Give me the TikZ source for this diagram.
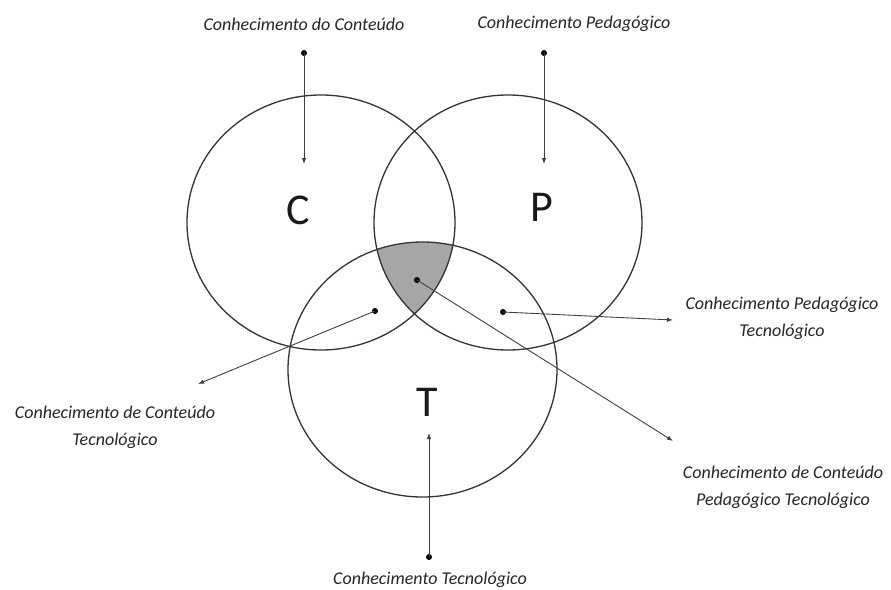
\documentclass[tikz,border=0pt]{standalone}
\usepackage{fontspec}
\setmainfont{Carlito}
\usetikzlibrary{arrows.meta}

\begin{document}
\begin{tikzpicture}[x=1pt, y=-1pt,
    every node/.style={font=\fontsize{18}{27}\selectfont\itshape, text=black!85},
    ring/.style={draw=black!80, line width=1.3pt},
    big/.style={font=\fontsize{44}{44}\selectfont\upshape, text=black!90},
    dot/.style={circle, fill=black, inner sep=0pt, minimum size=6pt},
    lbl/.style={align=center},
    arrow/.style={-{Latex[length=6pt, width=4.5pt]}, draw=black!75, line width=0.9pt}]

  \useasboundingbox (0,0) rectangle (891,589);

  % centres of the three sets
  \coordinate (cC) at (321,222.5);
  \coordinate (cP) at (508,222.5);
  \coordinate (cT) at (422.5,369.5);

  % common part
  \begin{scope}
    \clip (cC) ellipse [x radius=134pt, y radius=127.5pt];
    \clip (cP) ellipse [x radius=134pt, y radius=127.5pt];
    \fill[black!35] (cT) ellipse [x radius=134.5pt, y radius=127.5pt];
  \end{scope}

  \draw[ring] (cC) ellipse [x radius=134pt, y radius=127.5pt];
  \draw[ring] (cP) ellipse [x radius=134pt, y radius=127.5pt];
  \draw[ring] (cT) ellipse [x radius=134.5pt, y radius=127.5pt];

  \node[big] (setC) at (298,210) {C};
  \node[big] (setP) at (542,207) {P};
  \node[big] (setT) at (427,402) {T};

  % labels
  \node[lbl] (lC)   at (304,24)  {Conhecimento do Conteúdo};
  \node[lbl] (lP)   at (574,24)  {Conhecimento Pedagógico};
  \node[lbl] (lT)   at (430,580) {Conhecimento Tecnológico};
  \node[lbl] (lCT)  at (115,427) {Conhecimento de Conteúdo\\Tecnológico};
  \node[lbl] (lPT)  at (782,318) {Conhecimento Pedagógico\\Tecnológico};
  \node[lbl] (lCPT) at (783,487) {Conhecimento de Conteúdo\\Pedagógico Tecnológico};

  % dots
  \node[dot] (dC)   at (304,53)  {};
  \node[dot] (dP)   at (544,53)  {};
  \node[dot] (dT)   at (429,557) {};
  \node[dot] (dCT)  at (375,311) {};
  \node[dot] (dPT)  at (503,312) {};
  \node[dot] (dCPT) at (417,280) {};

  % arrow ends
  \coordinate (eC)   at (304,164);
  \coordinate (eP)   at (544,164);
  \coordinate (eT)   at (429,433);
  \coordinate (eCT)  at (198,384);
  \coordinate (ePT)  at (673,320);
  \coordinate (eCPT) at (673,441);

  \draw[arrow] (dC.center) -- (eC);
  \draw[arrow] (dP.center) -- (eP);
  \draw[arrow] (dT.center) -- (eT);
  \draw[arrow] (dCT.center) -- (eCT);
  \draw[arrow] (dPT.center) -- (ePT);
  \draw[arrow] (dCPT.center) -- (eCPT);
\end{tikzpicture}
\end{document}
